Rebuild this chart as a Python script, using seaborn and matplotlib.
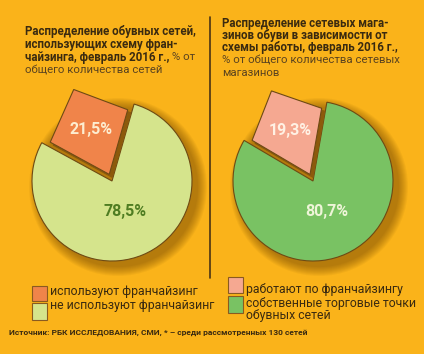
import numpy as np
import matplotlib
matplotlib.use('Agg')
import matplotlib.pyplot as plt
from matplotlib.patches import Polygon, Rectangle, Circle
import seaborn as sns

# ── Data ─────────────────────────────────────────────────────────────────────
left_labels  = ["используют франчайзинг", "не используют франчайзинг"]
left_values  = [21.5, 78.5]
right_labels = ["работают по франчайзингу", "собственные торговые точки\nобувных сетей"]
right_values = [19.3, 80.7]

left_title_bold  = ["Распределение обувных сетей,", "использующих схему фран-",
                    "чайзинга, февраль 2016 г.,"]
left_title_rest  = ["% от", "общего количества сетей"]
right_title_bold = ["Распределение сетевых мага-", "зинов обуви в зависимости от",
                    "схемы работы, февраль 2016 г.,"]
right_title_rest = ["% от общего количества сетевых", "магазинов"]
source = "Источник: РБК ИССЛЕДОВАНИЯ, СМИ, * – среди рассмотренных 130 сетей"

# ── Style ────────────────────────────────────────────────────────────────────
BG        = "#FAB31A"
EDGE      = "#6E4A14"
SIDE      = "#8C5A0C"
TXT       = "#3A2A10"
TXT_LIGHT = "#5A4320"
left_colors  = ["#F0844A", "#D5E48C"]
right_colors = ["#F5A891", "#79C263"]
left_lbl_colors  = ["#FDEDD0", "#4F7D22"]
right_lbl_colors = ["#FFF1E4", "#EEF5D8"]

sns.set_theme(style="white")
plt.rcParams['font.family'] = ['Roboto', 'DejaVu Sans']

W, H = 424, 354
fig = plt.figure(figsize=(W / 100, H / 100), dpi=100, facecolor=BG)
ax = fig.add_axes([0, 0, 1, 1])
ax.set_facecolor(BG)


def Y(y):  # pixel row -> data y
    return H - y


def draw_pie(values, colors, lbl_colors, cx, cy, r, start):
    # soft drop shadow
    for k in range(10):
        ax.add_patch(Circle((cx + 6, Y(cy) - 6), r + 9 - k, color="#5A3200",
                            alpha=0.05, lw=0, zorder=1))
    wedges, _ = ax.pie(values, colors=colors, startangle=start, counterclock=True,
                       center=(cx, Y(cy)), radius=r,
                       wedgeprops=dict(edgecolor=EDGE, linewidth=0.8))
    for w in wedges:
        w.set_zorder(2)
    # exploded small slice drawn as a kite
    small = wedges[0]
    small.set_visible(False)
    t1, t2 = np.radians(small.theta1), np.radians(small.theta2)
    tm = (t1 + t2) / 2
    ox, oy = cx + 0.09 * r * np.cos(tm), Y(cy) + 0.09 * r * np.sin(tm)
    pts = [(ox, oy),
           (ox + 0.84 * r * np.cos(t1), oy + 0.84 * r * np.sin(t1)),
           (ox + 1.15 * r * np.cos(tm), oy + 1.15 * r * np.sin(tm)),
           (ox + 0.84 * r * np.cos(t2), oy + 0.84 * r * np.sin(t2))]
    side = [(x + 3, y - 3) for x, y in pts]
    ax.add_patch(Polygon(side, closed=True, fc=SIDE, ec=SIDE, lw=0.8, zorder=3))
    ax.add_patch(Polygon(pts, closed=True, fc=colors[0], ec=EDGE, lw=0.8, zorder=4))
    # labels
    ax.text(ox + 0.58 * r * np.cos(tm), oy + 0.58 * r * np.sin(tm) + 2,
            f"{values[0]:.1f}%".replace('.', ','), color=lbl_colors[0],
            fontsize=11.5, fontweight='bold', ha='center', va='center', zorder=5)
    tb = tm + np.pi
    ax.text(cx + 0.42 * r * np.cos(tb), Y(cy) + 0.42 * r * np.sin(tb),
            f"{values[1]:.1f}%".replace('.', ','), color=lbl_colors[1],
            fontsize=11.5, fontweight='bold', ha='center', va='center', zorder=5)


draw_pie(left_values, left_colors, left_lbl_colors, 112, 181, 80, 74)
draw_pie(right_values, right_colors, right_lbl_colors, 313, 181, 80, 80)

# pie() resets the limits, so fix the pixel frame afterwards
ax.set_xlim(0, W); ax.set_ylim(0, H)
ax.set_aspect('equal')
ax.axis('off')

# divider
ax.plot([210, 210], [Y(17), Y(278)], color="#4A3415", lw=1.2)

# titles
def title(x, y0, step, bold, rest, rest_inline):
    y = y0
    last = None
    for line in bold:
        last = ax.text(x, Y(y), line, fontsize=8.3, fontweight='bold', color=TXT,
                       ha='left', va='center')
        y += step
    rest = list(rest)
    if rest_inline:
        ax.annotate(" " + rest.pop(0), xy=(1, 0.5), xycoords=last, fontsize=8.2,
                    color=TXT_LIGHT, ha='left', va='center')
    for line in rest:
        ax.text(x, Y(y), line, fontsize=8.2, color=TXT_LIGHT, ha='left', va='center')
        y += step

title(25, 32, 12.7, left_title_bold, left_title_rest, True)
title(222, 23, 12.5, right_title_bold, right_title_rest, False)

# legends
def legend(x, boxes, colors, labels, label_ys):
    for (y0, y1), c in zip(boxes, colors):
        ax.add_patch(Rectangle((x, Y(y1)), 15, y1 - y0, fc=c, ec="#8A5A20", lw=0.8))
    for lab, ly in zip(labels, label_ys):
        ax.text(x + 18, Y(ly), lab, fontsize=8.8, color=TXT, ha='left', va='center')

legend(32, [(286, 301), (303, 320)], left_colors, left_labels, [292, 305])
legend(228, [(277, 293), (296, 313)], right_colors,
       [right_labels[0]] + right_labels[1].split("\n"), [289, 303, 316])

ax.text(9, Y(333), source, fontsize=6, fontweight='bold', color=TXT,
        ha='left', va='center')

fig.savefig("out.png", dpi=100, facecolor=BG)
